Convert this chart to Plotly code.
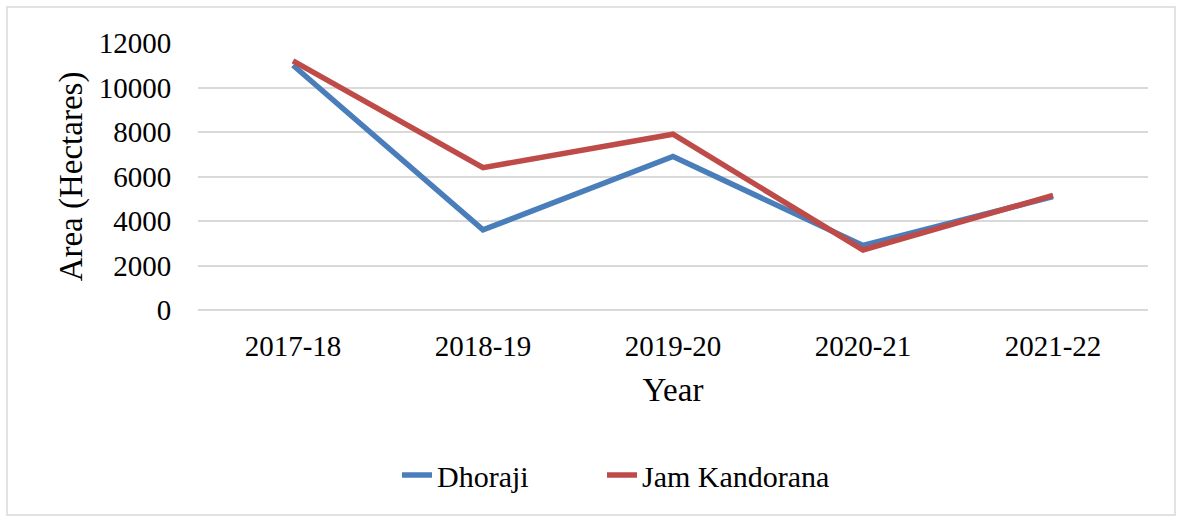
import plotly.graph_objects as go

years = ["2017-18", "2018-19", "2019-20", "2020-21", "2021-22"]
dhoraji = [11000, 3600, 6900, 2900, 5100]
jam_kandorana = [11200, 6400, 7900, 2700, 5150]
y_ticks = [0, 2000, 4000, 6000, 8000, 10000, 12000]

W, H = 1181, 520
L, R, T, B = 198, 33, 43, 210
pw, ph = W - L - R, H - T - B

font = "Liberation Serif"

fig = go.Figure()
fig.add_trace(go.Scatter(x=years, y=dhoraji, mode="lines", name="Dhoraji",
                         line=dict(color="#4A7EBB", width=5.5), legend="legend"))
fig.add_trace(go.Scatter(x=years, y=jam_kandorana, mode="lines", name="Jam Kandorana",
                         line=dict(color="#BE4B48", width=5.5), legend="legend2"))

leg_common = dict(orientation="h", yanchor="middle", xanchor="left",
                  font=dict(size=30, family=font, color="black"),
                  bgcolor="rgba(0,0,0,0)", itemwidth=30)
leg_y = -(475 - H + B) / ph
fig.update_layout(
    width=W, height=H,
    margin=dict(l=L, r=R, t=T, b=B),
    paper_bgcolor="white", plot_bgcolor="white",
    font=dict(family=font, color="black", size=29),
    showlegend=True,
    legend=dict(x=(397 - L) / pw, y=leg_y, **leg_common),
    legend2=dict(x=(602 - L) / pw, y=leg_y, **leg_common),
    xaxis=dict(type="category", range=[-0.5, 4.5], showgrid=False, showline=False,
               zeroline=False,
               ticks="outside", ticklen=10, tickcolor="rgba(0,0,0,0)",
               tickfont=dict(size=29, family=font),
               title=dict(text="Year", font=dict(size=33, family=font), standoff=17)),
    yaxis=dict(range=[0, 12000], tickvals=y_ticks, tickformat="d",
               showgrid=True, gridcolor="#D9D9D9", gridwidth=1.5,
               zeroline=True, zerolinecolor="#D9D9D9", zerolinewidth=1.5,
               showline=False,
               ticks="outside", ticklen=20, tickcolor="rgba(0,0,0,0)",
               tickfont=dict(size=29, family=font),
               title=dict(text="Area (Hectares)", font=dict(size=33, family=font), standoff=6)),
)

# outer chart border
fig.add_shape(type="rect", xref="paper", yref="paper",
              x0=(7 - L) / pw, x1=(1175 - L) / pw,
              y0=(H - B - 515) / ph, y1=(H - B - 7) / ph,
              line=dict(color="#D9D9D9", width=1.5), fillcolor="rgba(0,0,0,0)", layer="below")

fig.write_html("out.html")
